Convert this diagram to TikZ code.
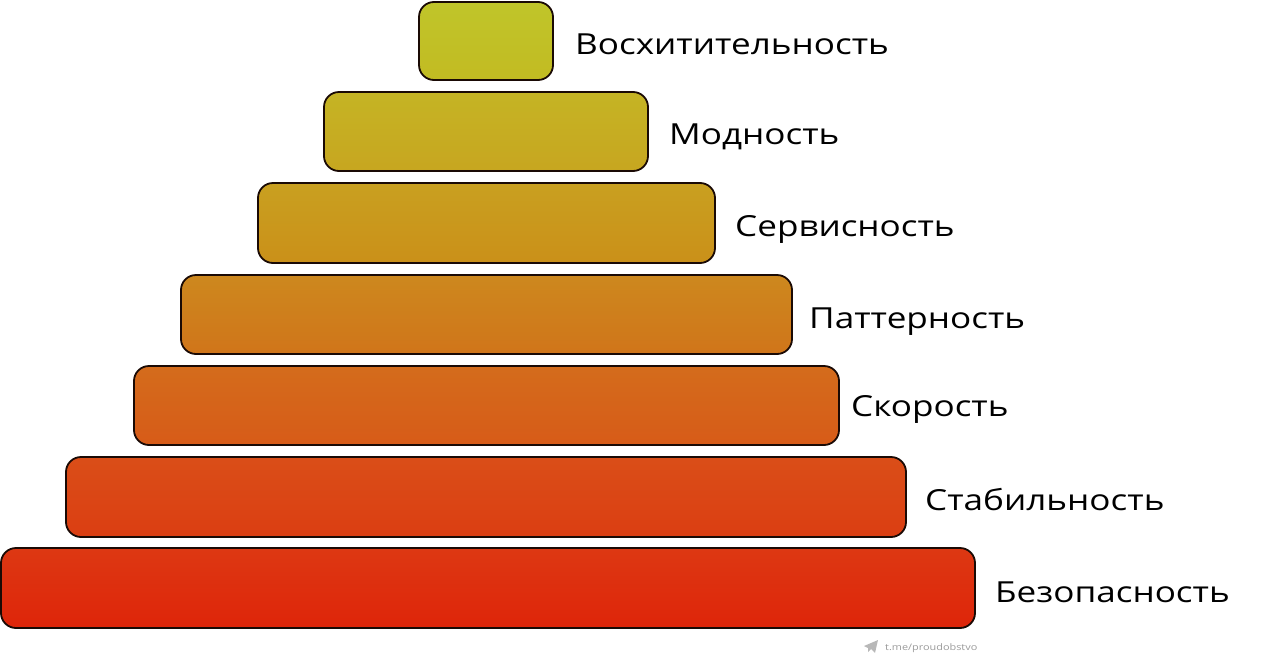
\documentclass[tikz,border=0pt]{standalone}
\usepackage{fontspec}
\setmainfont{Open Sans}[FakeStretch=1.21]
\usetikzlibrary{shapes.geometric}
\definecolor{ca1}{HTML}{C0C52A}\definecolor{cb1}{HTML}{C2BB22}
\definecolor{ca2}{HTML}{C5B424}\definecolor{cb2}{HTML}{C7A620}
\definecolor{ca3}{HTML}{C9A020}\definecolor{cb3}{HTML}{CA9019}
\definecolor{ca4}{HTML}{CD881E}\definecolor{cb4}{HTML}{D0751A}
\definecolor{ca5}{HTML}{D46C1C}\definecolor{cb5}{HTML}{D75B18}
\definecolor{ca6}{HTML}{DA4E18}\definecolor{cb6}{HTML}{DB3E12}
\definecolor{ca7}{HTML}{DD3813}\definecolor{cb7}{HTML}{DE2509}
\definecolor{edge}{HTML}{1A0A05}
\definecolor{wm}{HTML}{9A9A9A}
\tikzset{
  level/.style={draw=edge, line width=1.8pt, rounded corners=15pt, inner sep=0pt},
  lbl/.style={anchor=base west, inner sep=0pt, font=\fontsize{29}{34}\selectfont, text=black},
}
\begin{document}
\begin{tikzpicture}[x=1pt,y=-1pt]
\useasboundingbox (0,0) rectangle (1280,659);
\node[level, top color=ca1, bottom color=cb1, minimum width=134pt, minimum height=78pt] (b1) at (486,41) {};
\node[level, top color=ca2, bottom color=cb2, minimum width=324pt, minimum height=79pt] (b2) at (486,131.5) {};
\node[level, top color=ca3, bottom color=cb3, minimum width=457pt, minimum height=80pt] (b3) at (486.5,223) {};
\node[level, top color=ca4, bottom color=cb4, minimum width=611pt, minimum height=79pt] (b4) at (486.5,314.5) {};
\node[level, top color=ca5, bottom color=cb5, minimum width=705pt, minimum height=79pt] (b5) at (486.5,405.5) {};
\node[level, top color=ca6, bottom color=cb6, minimum width=840pt, minimum height=80pt] (b6) at (486,497) {};
\node[level, top color=ca7, bottom color=cb7, minimum width=974pt, minimum height=80pt] (b7) at (488,588) {};
\node[lbl] (t1) at (575,54) {Восхитительность};
\node[lbl] (t2) at (669,144) {Модность};
\node[lbl] (t3) at (735,236) {Сервисность};
\node[lbl] (t4) at (809,328) {Паттерность};
\node[lbl] (t5) at (851,416) {Скорость};
\node[lbl] (t6) at (925,510) {Стабильность};
\node[lbl] (t7) at (995,602) {Безопасность};
% watermark
\fill[wm!70] (864,646) -- (878,640) -- (875,653) -- (871,649) -- (868,652) -- (868,648) -- cycle;
\node[anchor=base west, inner sep=0pt, text=wm, font=\fontsize{9}{11}\selectfont] (wmk) at (885,650) {t.me/proudobstvo};
\end{tikzpicture}
\end{document}
